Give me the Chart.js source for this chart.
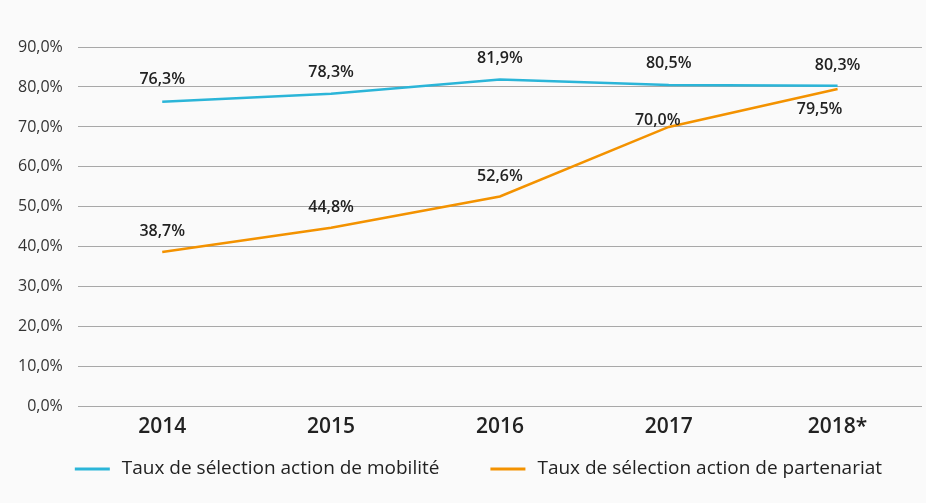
<!DOCTYPE html>
<html>
<head>
<meta charset="utf-8">
<script src="https://cdn.jsdelivr.net/npm/chart.js@4/dist/chart.umd.min.js"></script>
<style>
  html, body { margin: 0; padding: 0; background: #fafafa; }
  #wrap { width: 926px; height: 503px; }
</style>
</head>
<body>
<div id="wrap"><canvas id="myChart"></canvas></div>
<script>
const annees = ["2014", "2015", "2016", "2017", "2018*"];
const tauxMobilite = [76.3, 78.3, 81.9, 80.5, 80.3];
const tauxPartenariat = [38.7, 44.8, 52.6, 70.0, 79.5];
const nomsSeries = ["Taux de sélection action de mobilité", "Taux de sélection action de partenariat"];

const police = "'Open Sans', Lato, sans-serif";

// decalage des etiquettes (dx, dy) par point
const decalages = [
  [[0, -22], [0, -21], [0, -21], [0, -22], [0, -20]],
  [[0, -21], [0, -20], [0, -20], [-11, -7], [-18, 20]]
];

function formatPct(v) {
  return v.toFixed(1).replace(".", ",") + "%";
}

const etiquettes = {
  id: "etiquettes",
  afterDatasetsDraw(chart) {
    const ctx = chart.ctx;
    ctx.save();
    ctx.font = "600 16px " + police;
    ctx.fillStyle = "#222";
    ctx.textAlign = "center";
    ctx.textBaseline = "middle";
    chart.data.datasets.forEach((ds, i) => {
      chart.getDatasetMeta(i).data.forEach((pt, j) => {
        const d = decalages[i][j];
        ctx.fillText(formatPct(ds.data[j]), pt.x + d[0], pt.y + d[1]);
      });
    });
    ctx.restore();
  }
};

// legende dessinee a la main (ligne + texte)
const legende = {
  id: "legende",
  afterDraw(chart) {
    const ctx = chart.ctx;
    ctx.save();
    ctx.font = "19px " + police;
    ctx.textBaseline = "middle";
    let x = chart.chartArea.left - 3;
    const y = 469;
    chart.data.datasets.forEach(ds => {
      ctx.strokeStyle = ds.borderColor;
      ctx.lineWidth = 3;
      ctx.beginPath();
      ctx.moveTo(x, y);
      ctx.lineTo(x + 35, y);
      ctx.stroke();
      ctx.fillStyle = "#222";
      ctx.fillText(ds.label, x + 47, y);
      x += 47 + ctx.measureText(ds.label).width + 51;
    });
    ctx.restore();
  }
};

const grafica = document.getElementById("myChart").getContext("2d");
const myChart = new Chart(grafica, {
  type: "line",
  data: {
    labels: annees,
    datasets: [
      {
        label: nomsSeries[0],
        data: tauxMobilite,
        borderColor: "#2bb5d8",
        backgroundColor: "#2bb5d8",
        borderWidth: 2.5,
        pointRadius: 0,
        tension: 0
      },
      {
        label: nomsSeries[1],
        data: tauxPartenariat,
        borderColor: "#f39200",
        backgroundColor: "#f39200",
        borderWidth: 2.5,
        pointRadius: 0,
        tension: 0
      }
    ]
  },
  options: {
    responsive: true,
    maintainAspectRatio: false,
    animation: false,
    layout: { padding: { top: 47, right: 4, left: 3, bottom: 63 } },
    plugins: {
      tooltip: { enabled: false },
      legend: { display: false }
    },
    scales: {
      x: {
        offset: true,
        grid: { display: false },
        border: { display: false },
        ticks: {
          color: "#222",
          padding: 0,
          font: { family: police, size: 21, weight: "600" }
        }
      },
      y: {
        min: 0,
        max: 90,
        border: { display: false },
        grid: { color: "#a8a8a8", lineWidth: 1, drawTicks: false },
        ticks: {
          stepSize: 10,
          padding: 15,
          color: "#333",
          font: { family: police, size: 16 },
          callback: v => formatPct(v)
        }
      }
    }
  },
  plugins: [etiquettes, legende]
});
</script>
</body>
</html>
